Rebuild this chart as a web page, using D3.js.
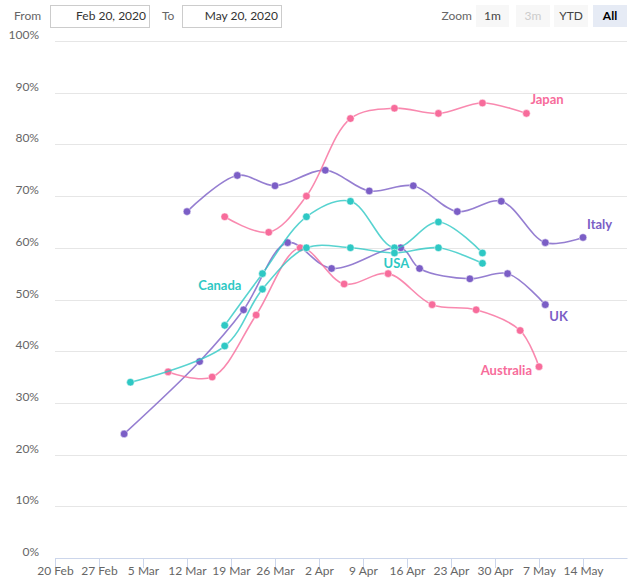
<!DOCTYPE html>
<html>
<head>
<meta charset="utf-8">
<script src="https://cdn.jsdelivr.net/npm/d3@7"></script>
<style>
  body { margin: 0; background: #fff; }
  svg { font-family: Lato, "Open Sans", sans-serif; display: block; }
</style>
</head>
<body>
<div id="chart"></div>
<script>
// survey data, share of respondents (%)
const italyDates = ["2020-03-12","2020-03-20","2020-03-26","2020-04-03","2020-04-10","2020-04-17","2020-04-24","2020-05-01","2020-05-08","2020-05-14"];
const italyValues = [67, 74, 72, 75, 71, 72, 67, 69, 61, 62];

const ukDates = ["2020-03-02","2020-03-14","2020-03-21","2020-03-28","2020-04-04","2020-04-15","2020-04-18","2020-04-26","2020-05-02","2020-05-08"];
const ukValues = [24, 38, 48, 61, 56, 60, 56, 54, 55, 49];

const japanDates = ["2020-03-18","2020-03-25","2020-03-31","2020-04-07","2020-04-14","2020-04-21","2020-04-28","2020-05-05"];
const japanValues = [66, 63, 70, 85, 87, 86, 88, 86];

const australiaDates = ["2020-03-09","2020-03-16","2020-03-23","2020-03-30","2020-04-06","2020-04-13","2020-04-20","2020-04-27","2020-05-04","2020-05-07"];
const australiaValues = [36, 35, 47, 60, 53, 55, 49, 48, 44, 37];

const canadaDates = ["2020-03-18","2020-03-24","2020-03-31","2020-04-07","2020-04-14","2020-04-21","2020-04-28"];
const canadaValues = [45, 55, 66, 69, 60, 65, 59];

const usaDates = ["2020-03-03","2020-03-18","2020-03-24","2020-03-31","2020-04-07","2020-04-14","2020-04-21","2020-04-28"];
const usaValues = [34, 41, 52, 60, 60, 59, 60, 57];

const yTicks = [0, 10, 20, 30, 40, 50, 60, 70, 80, 90, 100];
const zoomButtons = ["1m", "3m", "YTD", "All"];

const pink = "#f76c9b", purple = "#7b5ec6", cyan = "#2ec8c4";

// label placement: which point the label hangs off, and the offset from it
const series = [
  { name: "Italy", dates: italyDates, values: italyValues, color: purple, at: -1, dx: 4, dy: -8, anchor: "start" },
  { name: "UK", dates: ukDates, values: ukValues, color: purple, at: -1, dx: 4, dy: 16, anchor: "start" },
  { name: "Japan", dates: japanDates, values: japanValues, color: pink, at: -1, dx: 4, dy: -9, anchor: "start" },
  { name: "Australia", dates: australiaDates, values: australiaValues, color: pink, at: -1, dx: -7, dy: 8, anchor: "end" },
  { name: "Canada", dates: canadaDates, values: canadaValues, color: cyan, at: 1, dx: -21, dy: 16, anchor: "end" },
  { name: "USA", dates: usaDates, values: usaValues, color: cyan, at: 5, dx: 2, dy: 15, anchor: "middle" },
];

const W = 628, H = 582;
const margin = { top: 41, right: 1, bottom: 24, left: 55 };
const width = W - margin.left - margin.right;
const height = H - margin.top - margin.bottom;

const parse = d3.utcParse("%Y-%m-%d");

const svg = d3.select("#chart").append("svg")
  .attr("width", W)
  .attr("height", H);

// range selector row
const ctrl = svg.append("g").attr("font-size", 12);
ctrl.append("text").attr("x", 14).attr("y", 20).attr("fill", "#666").text("From");
ctrl.append("rect").attr("x", 50.5).attr("y", 5.5).attr("width", 99).attr("height", 22)
  .attr("fill", "#fff").attr("stroke", "#ccc");
ctrl.append("text").attr("x", 146).attr("y", 20).attr("text-anchor", "end").attr("fill", "#333").text("Feb 20, 2020");
ctrl.append("text").attr("x", 162).attr("y", 20).attr("fill", "#666").text("To");
ctrl.append("rect").attr("x", 182.5).attr("y", 5.5).attr("width", 99).attr("height", 22)
  .attr("fill", "#fff").attr("stroke", "#ccc");
ctrl.append("text").attr("x", 278).attr("y", 20).attr("text-anchor", "end").attr("fill", "#333").text("May 20, 2020");
ctrl.append("text").attr("x", 472).attr("y", 20).attr("text-anchor", "end").attr("fill", "#666").text("Zoom");

const btnX = [476, 516, 554, 593];
const btnW = [33, 34, 34, 34];
zoomButtons.forEach((b, i) => {
  const sel = b === "All", off = b === "3m";
  ctrl.append("rect").attr("x", btnX[i]).attr("y", 5).attr("width", btnW[i]).attr("height", 22)
    .attr("fill", sel ? "#e6ebf5" : "#f7f7f7");
  ctrl.append("text").attr("x", btnX[i] + btnW[i] / 2).attr("y", 20).attr("text-anchor", "middle")
    .attr("fill", sel ? "#000" : off ? "#ccc" : "#444")
    .attr("font-weight", sel ? "bold" : "normal")
    .text(b);
});

const g = svg.append("g").attr("transform", `translate(${margin.left},${margin.top})`);

const x = d3.scaleUtc()
  .domain([parse("2020-02-20"), parse("2020-05-21")])
  .range([0, width]);

const y = d3.scaleLinear().domain([0, 100]).range([height, 0]);

// gridlines
g.append("g")
  .selectAll("line")
  .data(yTicks.filter(d => d > 0))
  .join("line")
  .attr("x1", 0).attr("x2", width)
  .attr("y1", d => Math.round(y(d)) + 0.5).attr("y2", d => Math.round(y(d)) + 0.5)
  .attr("stroke", "#e6e6e6");

// y labels
g.append("g")
  .selectAll("text")
  .data(yTicks)
  .join("text")
  .attr("x", -16).attr("y", d => y(d) - 2)
  .attr("text-anchor", "end")
  .attr("font-size", 12)
  .attr("fill", "#666")
  .text(d => d + "%");

// x axis
const tickDates = d3.utcDay.range(parse("2020-02-20"), parse("2020-05-15"), 7);
const xAxis = g.append("g")
  .attr("transform", `translate(0,${height})`)
  .call(d3.axisBottom(x).tickValues(tickDates).tickFormat(d3.utcFormat("%-d %b")).tickSize(10).tickPadding(4).tickSizeOuter(0));
xAxis.select(".domain").attr("stroke", "#ccd6eb");
xAxis.selectAll(".tick line").attr("stroke", "#ccd6eb");
xAxis.selectAll(".tick text").attr("fill", "#666").attr("font-size", 12).attr("font-family", "Lato, sans-serif")
  .attr("y", 8);

const line = d3.line()
  .x(d => x(d.date))
  .y(d => y(d.value))
  .curve(d3.curveCatmullRom.alpha(0.5));

series.forEach(s => {
  s.points = s.dates.map((d, i) => ({ date: parse(d), value: s.values[i] }));
});

const sg = g.selectAll(".series").data(series).join("g").attr("class", "series");

sg.append("path")
  .attr("d", s => line(s.points))
  .attr("fill", "none")
  .attr("stroke", s => s.color)
  .attr("stroke-width", 1.6)
  .attr("stroke-opacity", 0.8);

sg.selectAll("circle")
  .data(s => s.points.map(p => ({ ...p, color: s.color })))
  .join("circle")
  .attr("cx", d => x(d.date))
  .attr("cy", d => y(d.value))
  .attr("r", 3.8)
  .attr("fill", d => d.color)
  .attr("stroke", "#fff")
  .attr("stroke-opacity", 0.5)
  .attr("stroke-width", 1);

// series labels
sg.append("text")
  .attr("x", s => {
    const p = s.points.at(s.at);
    return x(p.date) + s.dx;
  })
  .attr("y", s => {
    const p = s.points.at(s.at);
    return y(p.value) + s.dy;
  })
  .attr("text-anchor", s => s.anchor)
  .attr("font-size", 13)
  .attr("font-weight", "bold")
  .attr("fill", s => s.color)
  .text(s => s.name);
</script>
</body>
</html>
